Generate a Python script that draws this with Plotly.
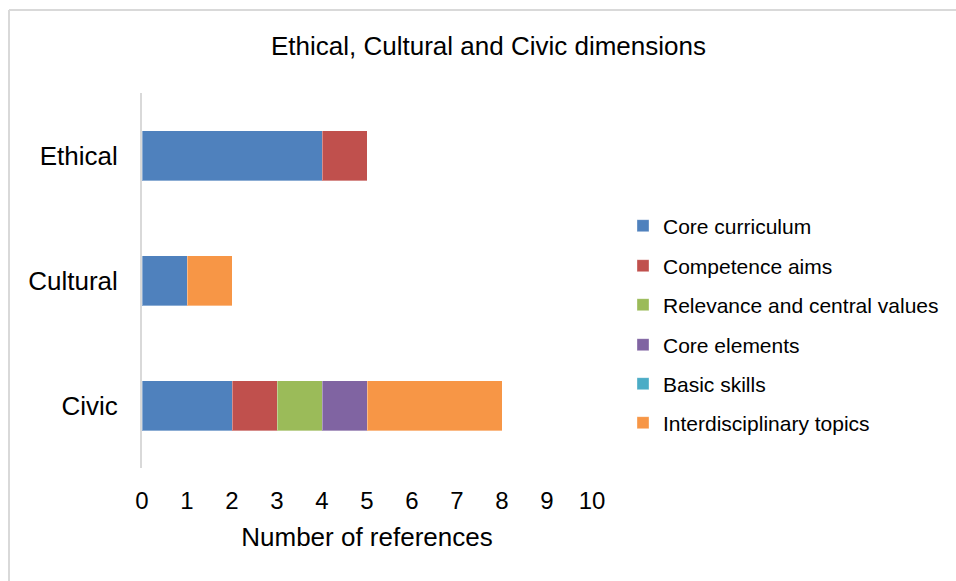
import plotly.graph_objects as go

categories = ["Civic", "Cultural", "Ethical"]
series_names = ["Core curriculum", "Competence aims", "Relevance and central values",
                "Core elements", "Basic skills", "Interdisciplinary topics"]
core_curriculum = [2, 1, 4]
competence_aims = [1, 0, 1]
relevance_values = [1, 0, 0]
core_elements = [1, 0, 0]
basic_skills = [0, 0, 0]
interdisciplinary = [3, 1, 0]
x_ticks = [0, 1, 2, 3, 4, 5, 6, 7, 8, 9, 10]

series_values = [core_curriculum, competence_aims, relevance_values,
                 core_elements, basic_skills, interdisciplinary]
colors = ["#4F81BD", "#C0504D", "#9BBB59", "#8064A2", "#4BACC6", "#F79646"]

W, H = 956, 581
L, R, T, B = 142, 364, 93, 113
PW, PH = W - L - R, H - T - B

def px_x(p):
    return (p - L) / PW

def px_y(p):
    return (H - B - p) / PH

FONT = "Liberation Sans, Arial, sans-serif"

fig = go.Figure()
legend_centers = [226, 266, 305, 345, 384, 423]
legend_layouts = {}
for i, (name, vals, col) in enumerate(zip(series_names, series_values, colors)):
    lname = "legend" if i == 0 else f"legend{i+1}"
    fig.add_trace(go.Bar(
        name=name, y=categories, x=vals, orientation="h",
        marker=dict(color=col, line=dict(color="rgba(255,255,255,0.35)", width=1)),
        legend=lname, showlegend=True,
    ))
    legend_layouts[lname] = dict(
        x=px_x(623), y=px_y(legend_centers[i]), xanchor="left", yanchor="middle",
        font=dict(family=FONT, size=21, color="#000000"),
        bgcolor="rgba(0,0,0,0)", borderwidth=0, itemwidth=30,
    )

fig.update_layout(
    width=W, height=H,
    showlegend=True,
    margin=dict(l=L, r=R, t=T, b=B, autoexpand=False),
    paper_bgcolor="white", plot_bgcolor="white",
    barmode="stack", bargap=0.6,
    title=dict(text="Ethical, Cultural and Civic dimensions",
               x=488.5 / W, xanchor="center", xref="container",
               y=1 - 46 / H, yanchor="middle", yref="container",
               font=dict(family=FONT, size=26, color="#000000")),
    xaxis=dict(range=[0, 10], tickvals=x_ticks, showgrid=False, zeroline=False,
               showline=False, ticks="", ticklabelstandoff=16,
               tickfont=dict(family=FONT, size=24, color="#000000"),
               title=dict(text="Number of references", standoff=14,
                          font=dict(family=FONT, size=26, color="#000000"))),
    yaxis=dict(showgrid=False, zeroline=False, showline=True, linecolor="#D9D9D9",
               linewidth=2, ticks="", ticklabelstandoff=17,
               range=[-0.5, 2.5],
               tickfont=dict(family=FONT, size=26, color="#000000")),
    shapes=[
        dict(type="line", xref="paper", yref="paper", x0=px_x(9), x1=px_x(1000),
             y0=px_y(10), y1=px_y(10), line=dict(color="#D9D9D9", width=2)),
        dict(type="line", xref="paper", yref="paper", x0=px_x(9), x1=px_x(9),
             y0=px_y(10), y1=px_y(700), line=dict(color="#D9D9D9", width=2)),
    ],
    **legend_layouts,
)

fig.write_html("out.html")
